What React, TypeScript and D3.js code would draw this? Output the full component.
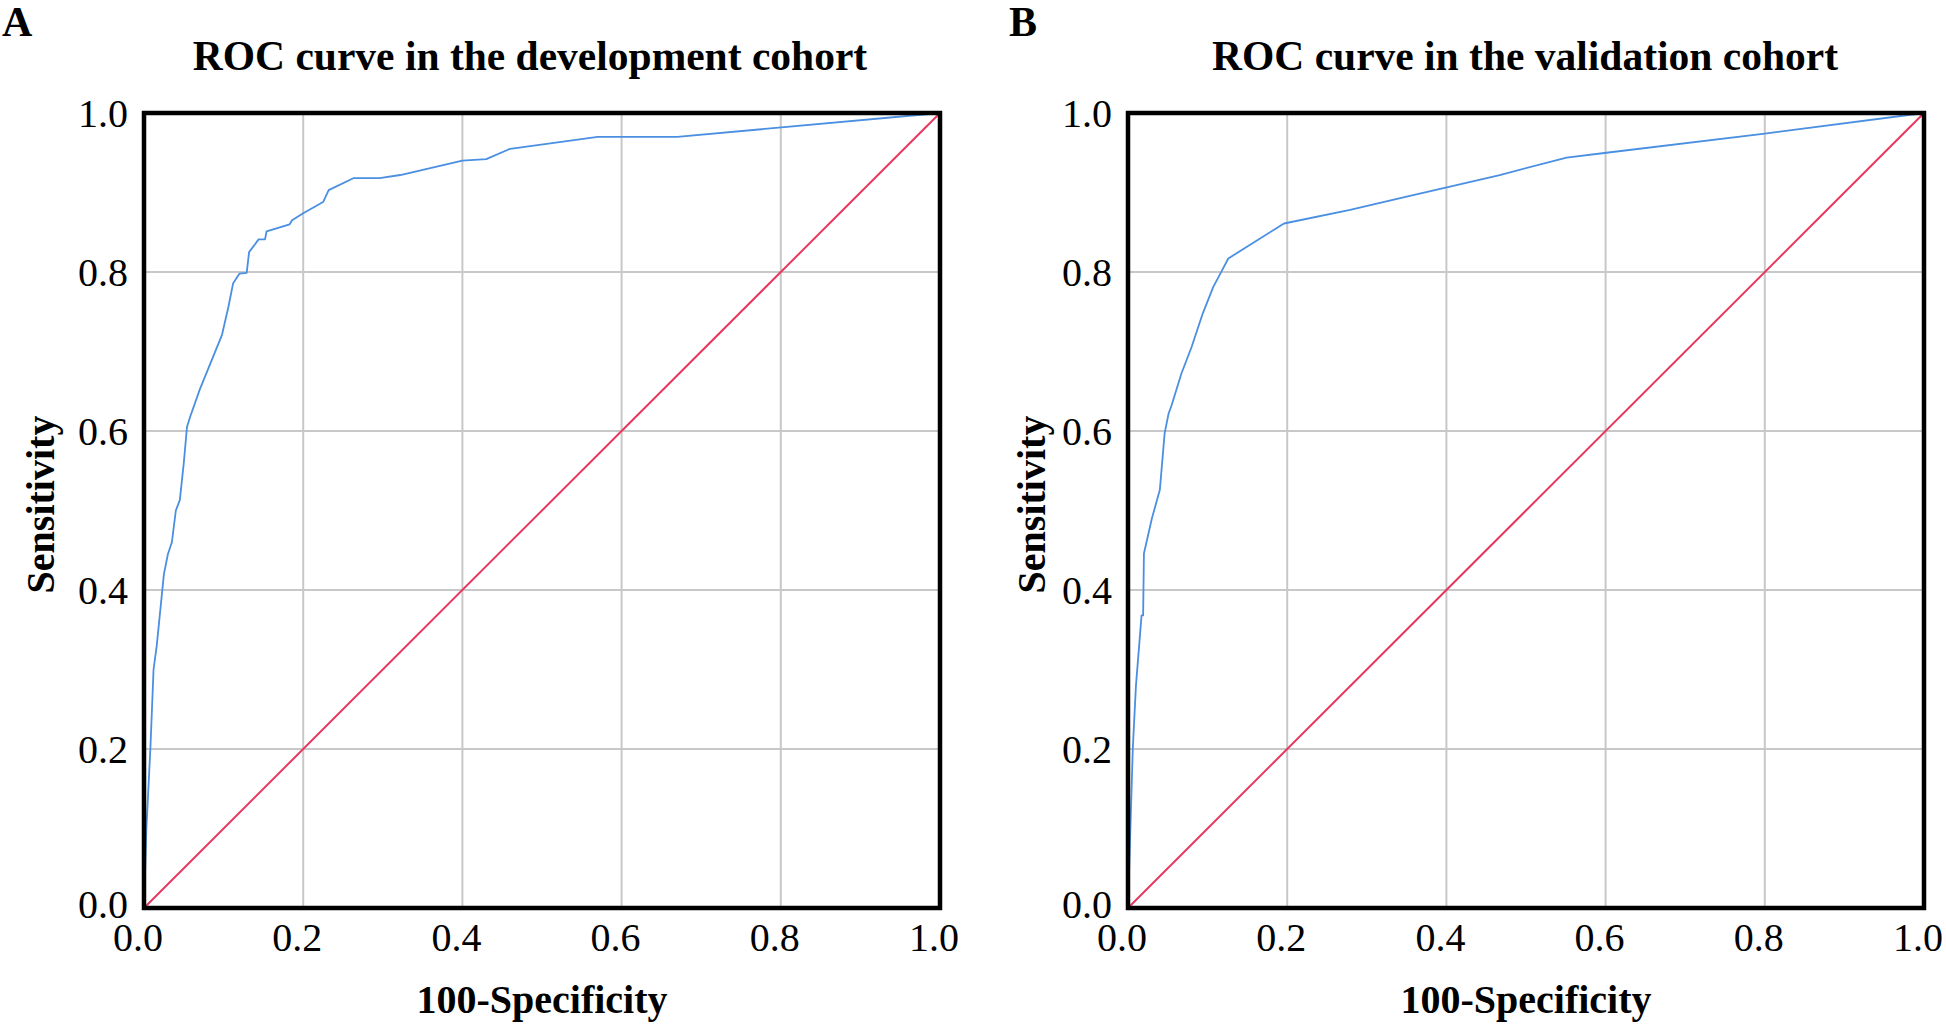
import React from "react";
import * as d3 from "d3";

// development cohort ROC points (1 - specificity, sensitivity)
const devFpr = [0, 0.003, 0.008, 0.012, 0.016, 0.02, 0.025, 0.03, 0.035, 0.04, 0.045, 0.05, 0.054, 0.058, 0.07, 0.098, 0.106, 0.112, 0.12, 0.129, 0.132, 0.144, 0.152, 0.154, 0.183, 0.186, 0.2, 0.225, 0.232, 0.263, 0.296, 0.322, 0.4, 0.43, 0.46, 0.57, 0.67, 1.0];
const devSens = [0, 0.1, 0.2, 0.3, 0.33, 0.37, 0.42, 0.445, 0.46, 0.5, 0.513, 0.56, 0.605, 0.618, 0.652, 0.721, 0.756, 0.786, 0.798, 0.799, 0.825, 0.841, 0.841, 0.851, 0.86, 0.865, 0.874, 0.888, 0.903, 0.918, 0.918, 0.922, 0.94, 0.942, 0.955, 0.97, 0.97, 1.0];

// validation cohort ROC points
const valFpr = [0, 0.003, 0.006, 0.01, 0.014, 0.017, 0.019, 0.02, 0.03, 0.04, 0.046, 0.051, 0.055, 0.067, 0.08, 0.094, 0.107, 0.116, 0.126, 0.196, 0.279, 0.342, 0.467, 0.551, 0.601, 0.8, 1.0];
const valSens = [0, 0.1, 0.2, 0.28, 0.33, 0.368, 0.368, 0.446, 0.49, 0.526, 0.597, 0.622, 0.633, 0.672, 0.706, 0.748, 0.781, 0.798, 0.817, 0.861, 0.878, 0.893, 0.922, 0.944, 0.95, 0.974, 1.0];

const ticks = [0, 0.2, 0.4, 0.6, 0.8, 1.0];
const tickLabels = ["0.0", "0.2", "0.4", "0.6", "0.8", "1.0"];

const serif = "'Liberation Serif', 'Times New Roman', serif";

type PanelProps = {
  letter: string;
  title: string;
  fpr: number[];
  sens: number[];
  left: number;
  titleX: number;
  letterX: number;
  yTitleX: number;
};

const Panel = ({ letter, title, fpr, sens, left, titleX, letterX, yTitleX }: PanelProps) => {
  const size = 796;
  const top = 113;
  const x = d3.scaleLinear().domain([0, 1]).range([left, left + size]);
  const y = d3.scaleLinear().domain([0, 1]).range([top + 795, top]);

  const pts = fpr.map((f, i) => [f, sens[i]] as [number, number]);
  const line = d3
    .line<[number, number]>()
    .x((d) => x(d[0]))
    .y((d) => y(d[1]));

  const inner = ticks.slice(1, -1);

  return (
    <g>
      <text x={letterX} y={36} fontFamily={serif} fontWeight="bold" fontSize={42}>
        {letter}
      </text>
      <text x={titleX} y={70} textAnchor="middle" fontFamily={serif} fontWeight="bold" fontSize={41.5}>
        {title}
      </text>

      {inner.map((t) => (
        <line key={"gx" + t} x1={x(t)} x2={x(t)} y1={y(0)} y2={y(1)} stroke="#c8c8c8" strokeWidth={2} />
      ))}
      {inner.map((t) => (
        <line key={"gy" + t} x1={x(0)} x2={x(1)} y1={y(t)} y2={y(t)} stroke="#c8c8c8" strokeWidth={2} />
      ))}

      <line x1={x(0)} y1={y(0)} x2={x(1)} y2={y(1)} stroke="#e8375f" strokeWidth={2} />
      <path d={line(pts) || ""} fill="none" stroke="#4a8fe2" strokeWidth={1.8} strokeLinejoin="round" />

      <rect x={x(0)} y={y(1)} width={x(1) - x(0)} height={y(0) - y(1)} fill="none" stroke="#000" strokeWidth={4.5} />

      {ticks.map((t, i) => (
        <text key={"yl" + t} x={x(0) - 16} y={y(t) - (t === 0 ? 4 : 0)} dy="0.35em" textAnchor="end" fontFamily={serif} fontSize={40}>
          {tickLabels[i]}
        </text>
      ))}
      {ticks.map((t, i) => (
        <text key={"xl" + t} x={x(t) - 6} y={951} textAnchor="middle" fontFamily={serif} fontSize={40}>
          {tickLabels[i]}
        </text>
      ))}

      <text
        transform={`translate(${yTitleX},${(y(0) + y(1)) / 2 - 6}) rotate(-90)`}
        textAnchor="middle"
        fontFamily={serif}
        fontWeight="bold"
        fontSize={40}
      >
        Sensitivity
      </text>
      <text x={(x(0) + x(1)) / 2} y={1013} textAnchor="middle" fontFamily={serif} fontWeight="bold" fontSize={40}>
        100-Specificity
      </text>
    </g>
  );
};

export default function App() {
  return (
    <svg width={1946} height={1030} style={{ position: "absolute", left: 0, top: 0, background: "#fff" }}>
      <rect width={1946} height={1030} fill="#fff" />
      <Panel
        letter="A"
        title="ROC curve in the development cohort"
        fpr={devFpr}
        sens={devSens}
        left={144}
        titleX={530}
        letterX={2}
        yTitleX={54}
      />
      <Panel
        letter="B"
        title="ROC curve in the validation cohort"
        fpr={valFpr}
        sens={valSens}
        left={1128}
        titleX={1525}
        letterX={1009}
        yTitleX={1045}
      />
    </svg>
  );
}
